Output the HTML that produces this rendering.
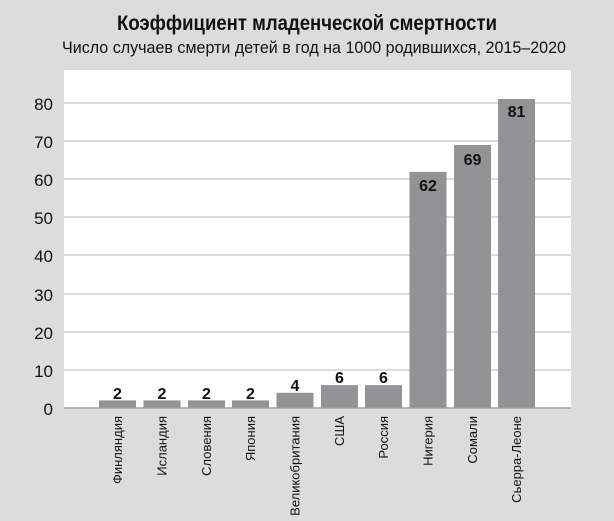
<!DOCTYPE html>
<html><head><meta charset="utf-8"><style>
body{margin:0;width:614px;height:516px;background:#dcdcdd;overflow:hidden;font-family:"Liberation Sans Narrow","Liberation Sans",sans-serif}
</style></head><body>
<svg width="614" height="516" xmlns="http://www.w3.org/2000/svg" font-family="Liberation Sans Narrow, Liberation Sans, sans-serif">
<text x="307" y="30" text-anchor="middle" font-size="21" font-weight="bold" fill="#111" textLength="380" lengthAdjust="spacingAndGlyphs">Коэффициент младенческой смертности</text>
<text x="314" y="53" text-anchor="middle" font-size="17" fill="#111" textLength="504" lengthAdjust="spacingAndGlyphs">Число случаев смерти детей в год на 1000 родившихся, 2015–2020</text>
<rect x="64" y="70" width="507" height="338" fill="#fff"/>
<g stroke="#cfcfcf" stroke-width="1.5">
<line x1="64" x2="571" y1="103" y2="103"/><line x1="64" x2="571" y1="141" y2="141"/>
<line x1="64" x2="571" y1="179" y2="179"/><line x1="64" x2="571" y1="217" y2="217"/>
<line x1="64" x2="571" y1="255" y2="255"/><line x1="64" x2="571" y1="294" y2="294"/>
<line x1="64" x2="571" y1="332" y2="332"/><line x1="64" x2="571" y1="370" y2="370"/>
</g>
<g font-size="17" fill="#111" text-anchor="end" font-family="Liberation Sans, sans-serif">
<text x="53" y="110">80</text><text x="53" y="148">70</text><text x="53" y="186">60</text>
<text x="53" y="224">50</text><text x="53" y="262">40</text><text x="53" y="301">30</text>
<text x="53" y="339">20</text><text x="53" y="377">10</text><text x="53" y="415">0</text>
</g>
<g fill="#939396">
<rect x="99" y="400.4" width="37" height="7.6"/><rect x="143.5" y="400.4" width="37" height="7.6"/>
<rect x="188" y="400.4" width="37" height="7.6"/><rect x="232" y="400.4" width="37" height="7.6"/>
<rect x="276.5" y="392.8" width="37" height="15.2"/><rect x="321" y="385.1" width="37" height="22.9"/>
<rect x="365" y="385.1" width="37" height="22.9"/><rect x="409.5" y="171.8" width="37" height="236.2"/>
<rect x="454" y="145" width="37" height="263"/><rect x="498" y="99" width="37" height="309"/>
</g>
<line x1="64" x2="571" y1="408" y2="408" stroke="#a0a0a0" stroke-width="1.5"/>
<g font-size="16" font-weight="bold" fill="#111" text-anchor="middle" font-family="Liberation Sans, sans-serif">
<text x="117.5" y="399">2</text><text x="162" y="399">2</text><text x="206.5" y="399">2</text><text x="250.5" y="399">2</text>
<text x="295" y="391">4</text><text x="339.5" y="383">6</text><text x="383.5" y="383">6</text>
<text x="428" y="191">62</text><text x="472.5" y="165">69</text><text x="516.5" y="117">81</text>
</g>
<g font-size="13" fill="#111" text-anchor="end">
<text transform="translate(122,416) rotate(-90)">Финляндия</text>
<text transform="translate(166.5,416) rotate(-90)">Исландия</text>
<text transform="translate(211,416) rotate(-90)">Словения</text>
<text transform="translate(255,416) rotate(-90)">Япония</text>
<text transform="translate(299.5,416) rotate(-90)">Великобритания</text>
<text transform="translate(344,416) rotate(-90)">США</text>
<text transform="translate(388,416) rotate(-90)">Россия</text>
<text transform="translate(432.5,416) rotate(-90)">Нигерия</text>
<text transform="translate(477,416) rotate(-90)">Сомали</text>
<text transform="translate(521,416) rotate(-90)">Сьерра-Леоне</text>
</g>
</svg>
</body></html>
